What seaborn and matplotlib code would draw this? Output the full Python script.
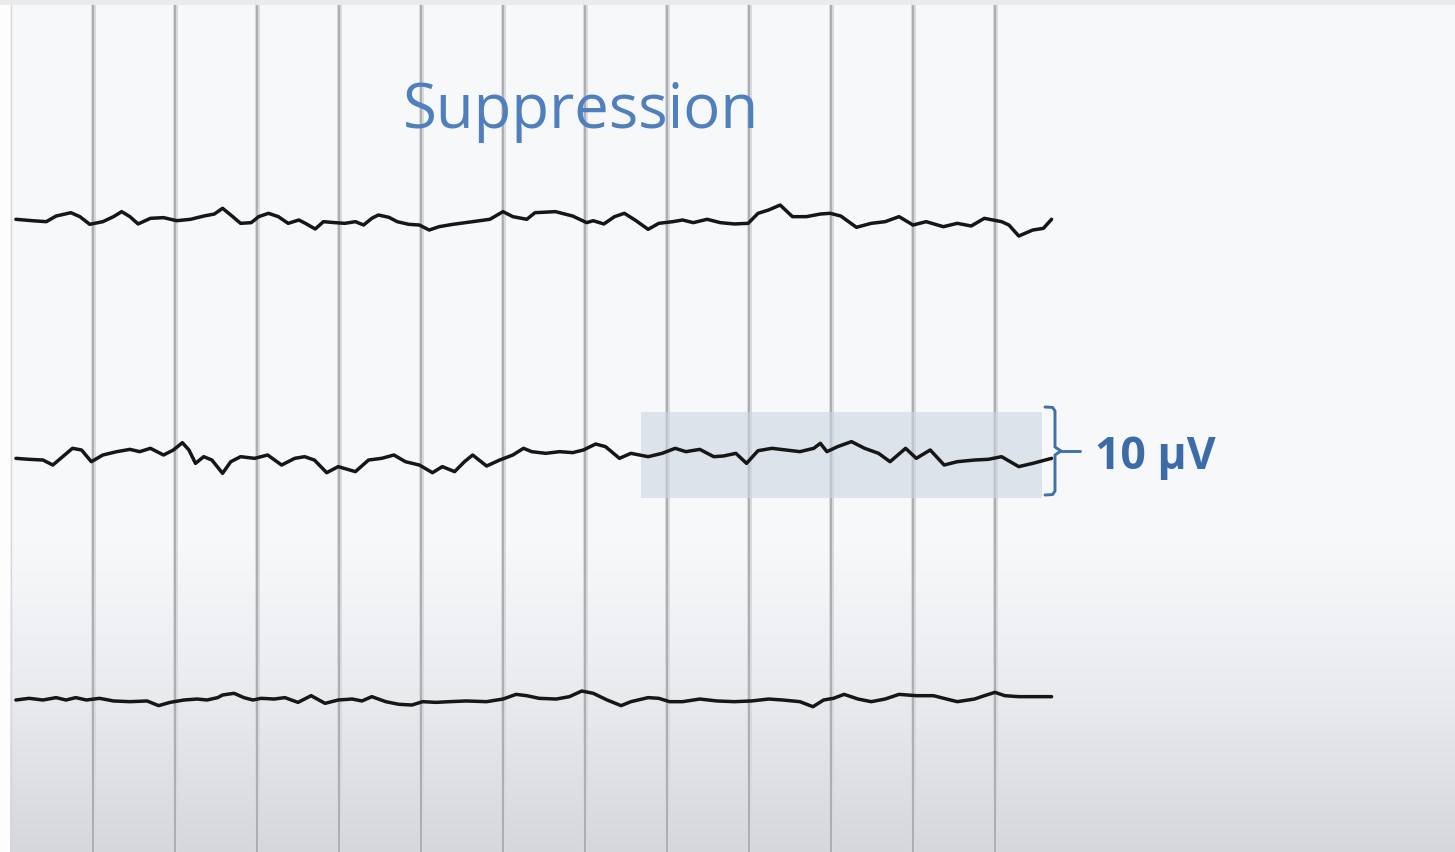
import numpy as np
import pandas as pd
import matplotlib
matplotlib.use("Agg")
import matplotlib.pyplot as plt
from matplotlib.patches import Rectangle
import seaborn as sns

# ---------------------------------------------------------------------------
# EEG samples: time (s) and amplitude (µV) for each of the three channels
# ---------------------------------------------------------------------------
top_t = [0.06, 0.26, 0.43, 0.55, 0.73, 0.84, 0.96, 1.12, 1.25, 1.35,
         1.45, 1.55, 1.70, 1.86, 2.02, 2.19, 2.35, 2.48, 2.58, 2.68,
         2.80, 2.93, 3.02, 3.14, 3.26, 3.38, 3.51, 3.59, 3.71, 3.81,
         3.95, 4.07, 4.20, 4.30, 4.40, 4.48, 4.61, 4.71, 4.85, 4.98,
         5.10, 5.22, 5.39, 5.63, 5.84, 6.00, 6.12, 6.29, 6.39, 6.64,
         6.85, 7.02, 7.10, 7.23, 7.36, 7.48, 7.61, 7.77, 7.90, 8.07,
         8.19, 8.32, 8.49, 8.65, 8.82, 8.99, 9.11, 9.24, 9.38, 9.53,
         9.70, 9.87, 9.99, 10.12, 10.31, 10.49, 10.66, 10.83, 11.00, 11.16,
         11.37, 11.54, 11.71, 11.87, 12.08, 12.17, 12.29, 12.46, 12.59, 12.69]
top_uv = [0.08, -0.08, -0.19, 0.45, 0.83, 0.38, -0.49, -0.19, 0.38, 0.95,
          0.38, -0.45, 0.19, 0.27, -0.08, 0.08, 0.45, 0.68, 1.33, 0.57,
          -0.38, -0.30, 0.38, 0.76, 0.38, -0.38, 0.00, -0.38, -1.02, -0.19,
          -0.30, -0.38, -0.19, -0.57, 0.19, 0.57, 0.30, -0.19, -0.49, -0.57,
          -1.14, -0.76, -0.49, -0.19, 0.08, 0.95, 0.38, 0.08, 0.83, 0.95,
          0.45, -0.30, -0.08, -0.45, 0.38, 0.76, 0.00, -1.06, -0.38, -0.19,
          0.00, -0.30, 0.08, -0.30, -0.45, -0.38, 0.76, 1.14, 1.70, 0.38,
          0.38, 0.68, 0.76, 0.45, -0.83, -0.38, -0.19, 0.38, -0.57, -0.19,
          -0.76, -0.38, -0.68, 0.19, -0.19, -0.57, -1.82, -1.14, -0.95, 0.08]

mid_t = [0.06, 0.22, 0.39, 0.51, 0.63, 0.75, 0.86, 0.98, 1.12, 1.29,
         1.45, 1.57, 1.70, 1.86, 1.98, 2.09, 2.17, 2.25, 2.35, 2.45,
         2.58, 2.68, 2.80, 2.97, 3.13, 3.30, 3.46, 3.58, 3.70, 3.85,
         3.99, 4.20, 4.36, 4.52, 4.67, 4.81, 4.98, 5.14, 5.26, 5.41,
         5.53, 5.63, 5.80, 5.96, 6.12, 6.25, 6.35, 6.52, 6.69, 6.85,
         6.98, 7.13, 7.25, 7.42, 7.56, 7.77, 7.94, 8.10, 8.23, 8.40,
         8.57, 8.69, 8.84, 8.97, 9.11, 9.28, 9.45, 9.62, 9.79, 9.87,
         9.95, 10.08, 10.25, 10.41, 10.58, 10.72, 10.91, 11.04, 11.21, 11.38,
         11.54, 11.75, 11.92, 12.08, 12.29, 12.46, 12.69]
mid_uv = [-0.04, -0.15, -0.23, -0.80, 0.15, 1.10, 0.91, -0.42, 0.34, 0.72,
          0.98, 0.72, 1.10, 0.34, 0.91, 1.74, 0.91, -0.61, 0.15, -0.23,
          -1.74, -0.42, 0.15, -0.04, 0.34, -0.80, -0.04, 0.15, -0.23, -1.67,
          -0.98, -1.55, -0.23, -0.04, 0.34, -0.42, -0.80, -1.67, -0.98, -1.55,
          -0.42, 0.34, -0.91, -0.23, 0.34, 1.10, 0.72, 0.53, 0.72, 0.61,
          0.91, 1.59, 1.29, -0.04, 0.53, 0.15, 0.53, 1.10, 0.72, 0.98,
          0.15, 0.23, 0.53, -0.61, 0.83, 1.10, 0.91, 0.72, 1.10, 1.67,
          0.72, 1.29, 1.86, 1.10, 0.53, -0.42, 1.10, -0.04, 0.91, -0.80,
          -0.42, -0.23, -0.15, 0.15, -0.98, -0.61, -0.04]

bot_t = [0.06, 0.22, 0.39, 0.55, 0.67, 0.79, 0.92, 1.08, 1.25, 1.45,
         1.66, 1.80, 1.94, 2.11, 2.27, 2.39, 2.52, 2.58, 2.72, 2.84,
         2.95, 3.05, 3.21, 3.34, 3.50, 3.66, 3.83, 3.99, 4.16, 4.28,
         4.40, 4.57, 4.73, 4.89, 5.02, 5.18, 5.35, 5.55, 5.80, 6.00,
         6.16, 6.29, 6.44, 6.65, 6.81, 6.96, 7.10, 7.27, 7.44, 7.56,
         7.77, 7.90, 8.03, 8.19, 8.40, 8.61, 8.82, 9.03, 9.24, 9.41,
         9.62, 9.78, 9.91, 10.03, 10.16, 10.33, 10.49, 10.66, 10.83, 11.04,
         11.25, 11.41, 11.54, 11.75, 11.87, 12.00, 12.12, 12.29, 12.50, 12.69]
bot_uv = [0.00, 0.19, 0.00, 0.27, 0.00, 0.27, 0.00, 0.19, -0.11, -0.19,
          -0.11, -0.64, -0.27, 0.00, 0.11, 0.00, 0.27, 0.57, 0.76, 0.27,
          0.00, 0.19, 0.11, 0.27, -0.27, 0.49, -0.38, 0.00, 0.11, -0.11,
          0.38, -0.19, -0.49, -0.57, -0.19, -0.27, -0.19, -0.11, -0.19, 0.11,
          0.64, 0.49, 0.19, 0.11, 0.38, 1.02, 0.76, 0.00, -0.64, -0.19,
          0.27, 0.19, -0.19, -0.19, 0.11, -0.11, -0.19, -0.11, 0.11, 0.00,
          -0.19, -0.76, 0.00, 0.19, 0.64, 0.11, -0.19, 0.11, 0.64, 0.49,
          0.49, 0.11, -0.19, 0.11, 0.49, 0.87, 0.49, 0.38, 0.38, 0.38]

channels = ["Ch 1", "Ch 2", "Ch 3"]
grid_seconds = list(range(0, 13))
title_text = "Suppression"
scale_uv = 10
scale_label = "10 µV"

# ---------------------------------------------------------------------------
# Page geometry (pixels) and conversion to data units
# ---------------------------------------------------------------------------
W, H = 1455, 852
PX_PER_S = 82.0      # paper speed
PX_PER_UV = 8.8      # gain
X0_PX = 11.0         # column of t = 0


def tx(px):
    return (px - X0_PX) / PX_PER_S


def uy(py):
    return (H - py) / PX_PER_UV


baseline = {"Ch 1": uy(220), "Ch 2": uy(458), "Ch 3": uy(700)}

frames = []
for name, t, v in zip(channels, [top_t, mid_t, bot_t], [top_uv, mid_uv, bot_uv]):
    frames.append(pd.DataFrame({"channel": name, "time": t, "uv": v}))
df = pd.concat(frames, ignore_index=True)
df["trace"] = df["uv"] + df["channel"].map(baseline)

# ---------------------------------------------------------------------------
# Figure
# ---------------------------------------------------------------------------
sns.set_style("white")
plt.rcParams["font.family"] = ["Open Sans", "DejaVu Sans"]

fig = plt.figure(figsize=(W / 100, H / 100), dpi=100)
ax = fig.add_axes([0, 0, 1, 1])
ax.set_xlim(tx(0), tx(W))
ax.set_ylim(uy(H), uy(0))
ax.set_axis_off()

# paper background with the shading toward the bottom edge
rows = np.arange(H)
stops_py = [0, 550, 700, 852]
stops_rgb = np.array([[248, 249, 251], [247, 248, 250], [233, 234, 238], [214, 215, 220]]) / 255
grad = np.stack([np.interp(rows, stops_py, stops_rgb[:, k]) for k in range(3)], axis=-1)
ax.imshow(grad[:, None, :], extent=[tx(0), tx(W), uy(H), uy(0)],
          aspect="auto", origin="upper", zorder=0, interpolation="bilinear")

# one-second division lines
for s in grid_seconds:
    if s == 0:
        ax.axvline(s, color="#d6d7da", lw=1.0, zorder=1)
        continue
    ax.axvline(s, color="#d8d9dc", lw=3.6, zorder=1)
    ax.axvline(s, color="#acadb0", lw=1.4, zorder=1.1)

# left margin and top strip of the page
ax.add_patch(Rectangle((tx(0), uy(H)), tx(10) - tx(0), uy(0) - uy(H),
                       color="#fdfdfd", zorder=1.5, lw=0))
ax.add_patch(Rectangle((tx(0), uy(5)), tx(W) - tx(0), uy(0) - uy(5),
                       color="#ebebeb", zorder=1.5, lw=0))

# highlighted stretch on the middle channel
ax.add_patch(Rectangle((tx(641), uy(498)), tx(1042) - tx(641), uy(412) - uy(498),
                       color=(203 / 255, 214 / 255, 226 / 255), alpha=0.6, lw=0, zorder=2))

# traces
sns.lineplot(data=df, x="time", y="trace", units="channel", estimator=None,
             sort=False, color="#161616", linewidth=2.5, legend=False, ax=ax,
             zorder=4, solid_joinstyle="round", solid_capstyle="round")
ax.set_xlabel("")
ax.set_ylabel("")

# calibration bracket spanning scale_uv
bc = uy(451)
b_top, b_bot = bc + scale_uv / 2, bc - scale_uv / 2
hx, vx, tipx, tickx = tx(1045), tx(1055), tx(1061), tx(1080)
r = 0.45
bx = [hx, vx - 0.03, vx, vx, tipx, vx, vx, vx - 0.03, hx]
by = [b_top, b_top - 0.05, b_top - r, bc + r, bc, bc - r, b_bot + r, b_bot + 0.05, b_bot]
blue = "#4070aa"
ax.plot(bx, by, color=blue, lw=2.1, zorder=5, solid_joinstyle="round")
ax.plot([tipx, tickx], [bc, bc], color=blue, lw=2.1, zorder=5)

ax.text(tx(1095), uy(458), scale_label, color="#3c6ca8", fontsize=32,
        fontweight="bold", ha="left", va="center", zorder=6)

ax.text(tx(403), uy(128), title_text, color="#4f80bd", fontsize=44.5,
        ha="left", va="baseline", zorder=6)

fig.savefig("out.png", dpi=100)
